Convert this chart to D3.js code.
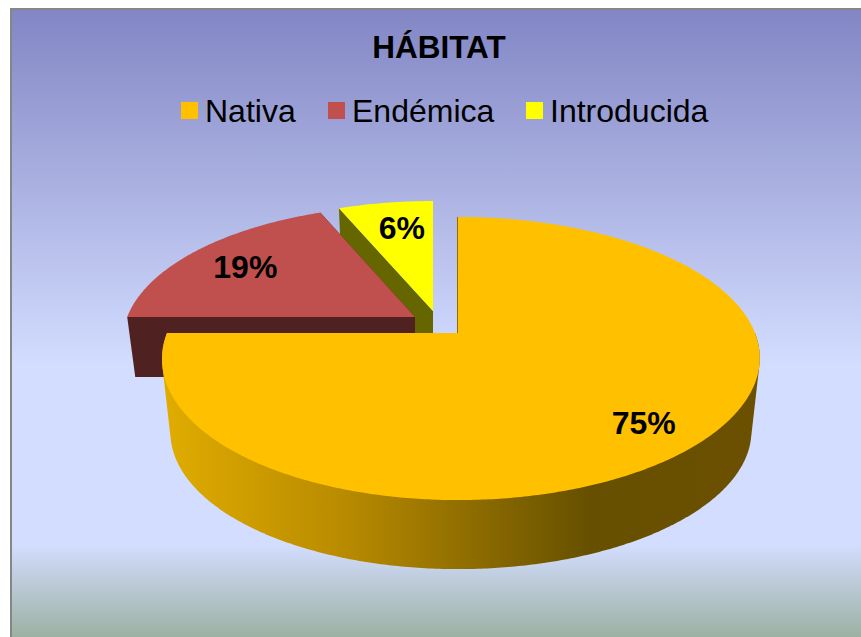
<!DOCTYPE html>
<html>
<head>
<meta charset="utf-8">
<script src="https://cdn.jsdelivr.net/npm/d3@7"></script>
<style>
	html, body {margin: 0; padding: 0; background: #fff;}
	svg {display: block;}
	text {font-family: "Liberation Sans", Arial, sans-serif; fill: #000;}
</style>
</head>
<body>
<div id="vis"></div>
<script>
// data
const CATEGORIES = ["Nativa", "Endémica", "Introducida"];
const VALUES = [12, 3, 1];
const COLORS = ["#ffc000", "#c0504d", "#ffff00"];
const SIDE_COLORS = ["#6b5000", "#4f2120", "#666600"];

// frame
const FRAME_WIDTH = 861;
const FRAME_HEIGHT = 637;

// pie geometry: top face is a disc seen in perspective
const CX = 458;
const CY = 333;
const RADIUS = 294;
const SQUASH = 137;
const PERSP = 0.18;
const BOTTOM_SHRINK = 0.972;

// per slice: pull out, thickness, rim skew, label spot
const PULL_X = [0, -43, -25];
const PULL_V = [0, -0.12, -0.165];
const THICK = [73.7, 59.6, 59.6];
const SKEW = [3, 0, 0];
const LABEL_AT = [0.81, 0.75, 0.74];
const LABEL_DX = [-3, -2.5, 5.5];
const LABEL_DY = [2, 0, -1];

const FRAME1 = d3.select("#vis")
	.append("svg")
		.attr("width", FRAME_WIDTH)
		.attr("height", FRAME_HEIGHT);

const DEFS = FRAME1.append("defs");

// background
const BG = DEFS.append("linearGradient")
	.attr("id", "bg")
	.attr("x1", 0).attr("y1", 0).attr("x2", 0).attr("y2", 1);
BG.selectAll("stop")
	.data([[0, "#8286c4"], [0.565, "#d3ddff"], [0.85, "#d3ddff"], [1, "#9bb0a0"]])
	.enter()
	.append("stop")
		.attr("offset", (d) => d[0])
		.attr("stop-color", (d) => d[1]);

// wall shading of the big slice
const WALL = DEFS.append("linearGradient")
	.attr("id", "wall")
	.attr("gradientUnits", "userSpaceOnUse")
	.attr("x1", 165).attr("y1", 0).attr("x2", 755).attr("y2", 0);
WALL.selectAll("stop")
	.data([[0, "#e0ac00"], [0.3, "#b98b00"], [0.72, "#665000"], [1, "#6b5000"]])
	.enter()
	.append("stop")
		.attr("offset", (d) => d[0])
		.attr("stop-color", (d) => d[1]);

FRAME1.append("rect")
	.attr("x", 11)
	.attr("y", 9)
	.attr("width", 852)
	.attr("height", 630)
	.attr("fill", "url(#bg)")
	.attr("stroke", "#868686")
	.attr("stroke-width", 2);

// title
FRAME1.append("text")
	.attr("x", 439)
	.attr("y", 58)
	.attr("text-anchor", "middle")
	.attr("font-size", "31.5px")
	.attr("font-weight", "bold")
	.text("HÁBITAT");

// legend
const LEGEND_X = d3.scaleOrdinal().domain(CATEGORIES).range([181, 328, 526]);
const LEGEND = FRAME1.selectAll("legend")
	.data(CATEGORIES)
	.enter()
	.append("g");
LEGEND.append("rect")
	.attr("x", (d) => LEGEND_X(d))
	.attr("y", 102)
	.attr("width", 17)
	.attr("height", 17)
	.attr("fill", (d, i) => COLORS[i]);
LEGEND.append("text")
	.attr("x", (d) => LEGEND_X(d) + 24)
	.attr("y", 122)
	.attr("font-size", "32px")
	.text((d) => d);

// pie
const PIE = d3.pie().sort(null).value((d) => d);
const SLICES = PIE(VALUES);
const TOTAL = d3.sum(VALUES);
const PCT = d3.format(".0%");

// project a point of the disc to the screen; side 1 is the lower face
function project(i, u, v, side) {
	const vv = v + PULL_V[i];
	const s = 1 / (1 - PERSP * vv);
	const k = side ? BOTTOM_SHRINK : 1;
	return [
		CX + PULL_X[i] + RADIUS * u * s * k + SKEW[i] * u * u,
		CY + SQUASH * vv * s * k + (side ? THICK[i] : 0)
	];
}

// point on the rim at an angle measured clockwise from 12 o'clock
function rim(i, a, f, side) {
	return project(i, Math.sin(a) * f, -Math.cos(a) * f, side);
}

function arcPoints(i, a0, a1, side) {
	const n = Math.ceil(Math.abs(a1 - a0) / 0.01);
	return d3.range(n + 1).map((j) => rim(i, a0 + (a1 - a0) * j / n, 1, side));
}

const LINE = d3.line();

function drawSlice(d) {
	const i = d.index;
	const G = FRAME1.append("g");

	// outer wall, only the part that faces the viewer
	const a0 = Math.max(d.startAngle, Math.PI / 2);
	const a1 = Math.min(d.endAngle, Math.PI * 1.5);
	if (a1 > a0) {
		const HULL = d3.polygonHull(arcPoints(i, a0, a1, 0).concat(arcPoints(i, a0, a1, 1)));
		G.append("path")
			.attr("d", LINE(HULL) + "Z")
			.attr("fill", "url(#wall)");
	} else {
		// cut faces of the pulled out slices
		[d.startAngle, d.endAngle].forEach((a) => {
			G.append("path")
				.attr("d", LINE([
					project(i, 0, 0, 0), rim(i, a, 1, 0),
					rim(i, a, 1, 1), project(i, 0, 0, 1)
				]) + "Z")
				.attr("fill", SIDE_COLORS[i]);
		});
	}

	// top face
	G.append("path")
		.attr("d", LINE([project(i, 0, 0, 0)]
			.concat(arcPoints(i, d.startAngle, d.endAngle, 0))) + "Z")
		.attr("fill", COLORS[i]);
}

// back slices first
SLICES.slice().reverse().forEach(drawSlice);

// edge line at 12 o'clock on the big slice
FRAME1.append("path")
	.attr("d", LINE([project(0, 0, 0, 0), rim(0, 0, 1, 0)]))
	.attr("transform", "translate(-0.5,0)")
	.attr("stroke", "#8f7000")
	.attr("stroke-width", 1);

// percent labels
FRAME1.selectAll("labels")
	.data(SLICES)
	.enter()
	.append("text")
		.attr("transform", (d) => {
			const p = rim(d.index, (d.startAngle + d.endAngle) / 2, LABEL_AT[d.index], 0);
			return "translate(" + (p[0] + LABEL_DX[d.index]) + "," + (p[1] + 12 + LABEL_DY[d.index]) + ")";
		})
		.attr("text-anchor", "middle")
		.attr("font-size", "32px")
		.attr("font-weight", "bold")
		.text((d) => PCT(d.value / TOTAL));
</script>
</body>
</html>
